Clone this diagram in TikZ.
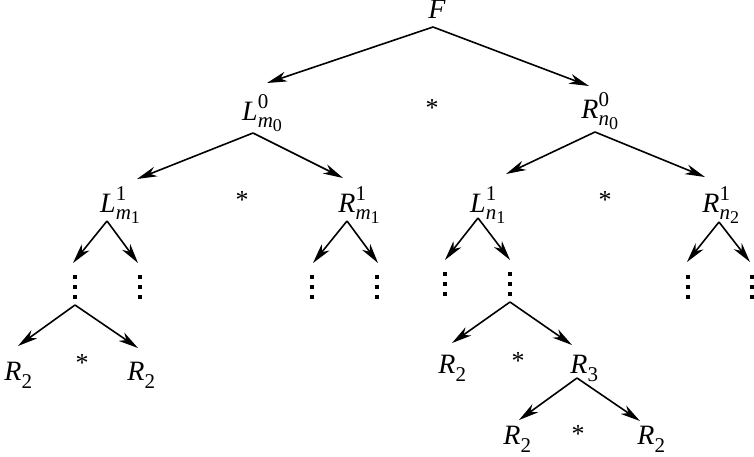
\documentclass[tikz,border=0pt]{standalone}
\usepackage{fontspec}
\setmainfont{Liberation Serif}
\usetikzlibrary{arrows.meta,calc}
\newcommand\supf{\fontsize{21}{21}\selectfont}
\newcommand\subsubf{\fontsize{18}{18}\selectfont}
% main letter, superscript, subscript letter, sub-subscript
\newcommand\lbl[4]{\textit{#1}\rlap{\rlap{\raisebox{12pt}{\supf #2}}\raisebox{-7pt}{\supf\textit{#3}\raisebox{-4pt}{\subsubf #4}}}}
\newcommand\lsub[2]{\textit{#1}\rlap{\raisebox{-8pt}{\supf #2}}}
\tikzset{
  lab/.style={inner sep=0pt, anchor=base, font=\fontsize{28}{28}\selectfont},
  star/.style={inner sep=0pt, font=\fontsize{26}{26}\selectfont},
  bigtip/.tip={Stealth[length=20pt, width=10pt, inset=6pt]},
  arr/.style={line width=1.6pt, -bigtip},
}
\newcommand\threedots[1]{%
  \fill ($(#1)+(-1.7pt,8.3pt)$) rectangle ++(3.4pt,3.4pt);
  \fill ($(#1)+(-1.7pt,-1.7pt)$) rectangle ++(3.4pt,3.4pt);
  \fill ($(#1)+(-1.7pt,-11.7pt)$) rectangle ++(3.4pt,3.4pt);
}
\begin{document}
\begin{tikzpicture}
\useasboundingbox (0pt,0pt) rectangle (754pt,-456pt);
% labels
\node[lab] (F) at (437pt,-18pt) {\textit{F}};
\node[lab] (Lm0) at (250pt,-120pt) {\lbl{L}{0}{m}{0}};
\node[lab] (Rn0) at (590pt,-118pt) {\lbl{R}{0}{n}{0}};
\node[lab] (Lm1) at (108pt,-212pt) {\lbl{L}{1}{m}{1}};
\node[lab] (Rm1) at (347pt,-212pt) {\lbl{R}{1}{m}{1}};
\node[lab] (Ln1) at (478pt,-212pt) {\lbl{L}{1}{n}{1}};
\node[lab] (Rn2) at (711pt,-212pt) {\lbl{R}{1}{n}{2}};
\node[lab] (A1) at (13pt,-380pt) {\lsub{R}{2}};
\node[lab] (A2) at (136pt,-380pt) {\lsub{R}{2}};
\node[lab] (B1) at (447pt,-373pt) {\lsub{R}{2}};
\node[lab] (R3) at (579pt,-373pt) {\lsub{R}{3}};
\node[lab] (C1) at (512pt,-444pt) {\lsub{R}{2}};
\node[lab] (C2) at (646pt,-444pt) {\lsub{R}{2}};
% stars
\node[star] (s0) at (432pt,-108pt) {*};
\node[star] (s1) at (242pt,-200pt) {*};
\node[star] (s2) at (605pt,-200pt) {*};
\node[star] (s3) at (82pt,-363pt) {*};
\node[star] (s4) at (518pt,-361pt) {*};
\node[star] (s5) at (578pt,-434pt) {*};
% apex points
\coordinate (aF) at (433pt,-27pt);
\coordinate (aLm0) at (253pt,-133pt);
\coordinate (aRn0) at (595pt,-132pt);
\coordinate (aLm1) at (107pt,-221pt);
\coordinate (aRm1) at (347pt,-221pt);
\coordinate (aLn1) at (478pt,-218pt);
\coordinate (aRn2) at (719pt,-222pt);
\coordinate (aD1) at (75pt,-305pt);
\coordinate (aD6) at (510pt,-302pt);
\coordinate (aR3) at (577pt,-378pt);
% tips
\coordinate (tLm0) at (267pt,-83pt);
\coordinate (tRn0) at (589pt,-86pt);
\coordinate (tLm1) at (137pt,-179pt);
\coordinate (tRm1) at (343pt,-178pt);
\coordinate (tLn1) at (506pt,-174pt);
\coordinate (tRn2) at (705pt,-177pt);
\coordinate (tD1) at (73pt,-263pt);
\coordinate (tD2) at (138pt,-263pt);
\coordinate (tD3) at (313pt,-263pt);
\coordinate (tD4) at (378pt,-263pt);
\coordinate (tD5) at (445pt,-260pt);
\coordinate (tD6) at (510pt,-260pt);
\coordinate (tD7) at (687pt,-262pt);
\coordinate (tD8) at (750pt,-262pt);
\coordinate (tA1) at (18pt,-346pt);
\coordinate (tA2) at (138pt,-348pt);
\coordinate (tB1) at (452pt,-343pt);
\coordinate (tR3) at (572pt,-345pt);
\coordinate (tC1) at (519pt,-420pt);
\coordinate (tC2) at (640pt,-421pt);
% dots centres
\coordinate (D1) at (75pt,-287pt);
\coordinate (D2) at (140pt,-287pt);
\coordinate (D3) at (312pt,-287pt);
\coordinate (D4) at (377pt,-287pt);
\coordinate (D5) at (445pt,-284pt);
\coordinate (D6) at (510pt,-284pt);
\coordinate (D7) at (688pt,-287pt);
\coordinate (D8) at (752pt,-287pt);
\foreach \d in {D1,D2,D3,D4,D5,D6,D7,D8}{\threedots{\d}}
% arrows
\draw[arr] (aF) -- (tLm0);
\draw[arr] (aF) -- (tRn0);
\draw[arr] (aLm0) -- (tLm1);
\draw[arr] (aLm0) -- (tRm1);
\draw[arr] (aRn0) -- (tLn1);
\draw[arr] (aRn0) -- (tRn2);
\draw[arr] (aLm1) -- (tD1);
\draw[arr] (aLm1) -- (tD2);
\draw[arr] (aRm1) -- (tD3);
\draw[arr] (aRm1) -- (tD4);
\draw[arr] (aLn1) -- (tD5);
\draw[arr] (aLn1) -- (tD6);
\draw[arr] (aRn2) -- (tD7);
\draw[arr] (aRn2) -- (tD8);
\draw[arr] (aD1) -- (tA1);
\draw[arr] (aD1) -- (tA2);
\draw[arr] (aD6) -- (tB1);
\draw[arr] (aD6) -- (tR3);
\draw[arr] (aR3) -- (tC1);
\draw[arr] (aR3) -- (tC2);
\end{tikzpicture}
\end{document}
